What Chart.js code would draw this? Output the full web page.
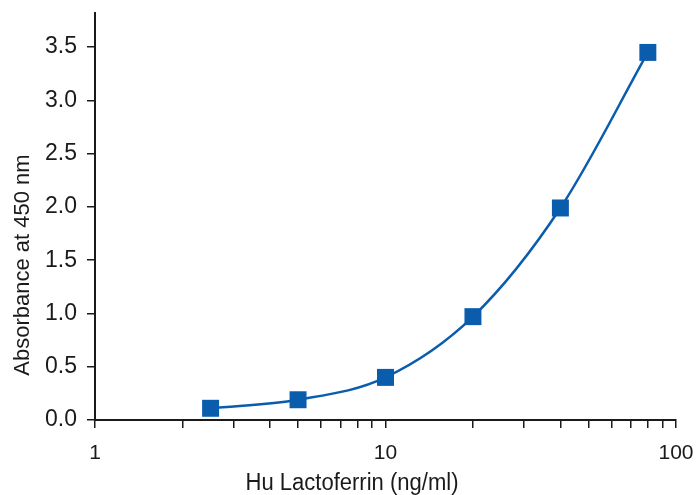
<!DOCTYPE html>
<html>
<head>
<meta charset="utf-8">
<script src="https://cdn.jsdelivr.net/npm/chart.js@4.4.0/dist/chart.umd.min.js"></script>
<style>
  html, body { margin: 0; padding: 0; background: #fff; }
  #wrap { width: 696px; height: 495px; }
</style>
</head>
<body>
<div id="wrap"><canvas id="curve"></canvas></div>
<script>
// standard curve data
const concentrations = [2.5, 5, 10, 20, 40, 80];
const absorbance = [0.11, 0.19, 0.40, 0.97, 1.99, 3.45];

const xTickValues = [1, 2, 3, 4, 5, 6, 7, 8, 9, 10, 20, 30, 40, 50, 60, 70, 80, 90, 100];
const xTickLabels = { 1: '1', 10: '10', 100: '100' };
const yTickValues = [0, 0.5, 1.0, 1.5, 2.0, 2.5, 3.0, 3.5];
const xTitle = 'Hu Lactoferrin (ng/ml)';
const yTitle = 'Absorbance at 450 nm';

const blue = '#0a5cad';
const ink = '#1a1a1a';

// both axis titles sit off-centre in the original, so they are drawn by hand
const titlesPlugin = {
    id: 'axisTitles',
    afterDraw(chart) {
        const c = chart.ctx;
        const area = chart.chartArea;
        c.save();
        c.fillStyle = ink;
        c.textAlign = 'center';
        c.textBaseline = 'alphabetic';

        // x title, condensed look
        c.font = "23px 'Liberation Sans'";
        const w = c.measureText(xTitle).width;
        c.save();
        c.translate(area.left + 257, area.bottom + 70);
        c.scale(213 / w, 1);
        c.fillText(xTitle, 0, 0);
        c.restore();

        // y title, rotated
        c.font = "22px 'Liberation Sans'";
        c.save();
        c.translate(29, area.top + 252);
        c.rotate(-Math.PI / 2);
        c.fillText(yTitle, 0, 0);
        c.restore();

        c.restore();
    }
};

const ctx = document.getElementById('curve').getContext('2d');
new Chart(ctx, {
    type: 'line',
    data: {
        datasets: [{
            data: concentrations.map((c, i) => ({ x: c, y: absorbance[i] })),
            borderColor: blue,
            backgroundColor: blue,
            borderWidth: 2.5,
            cubicInterpolationMode: 'monotone',
            pointStyle: 'rect',
            pointRadius: 12,
            pointBorderWidth: 0,
            fill: false
        }]
    },
    plugins: [titlesPlugin],
    options: {
        responsive: true,
        maintainAspectRatio: false,
        animation: false,
        layout: { padding: { top: 13, right: 20, left: 0, bottom: 0 } },
        plugins: { legend: { display: false }, tooltip: { enabled: false } },
        scales: {
            x: {
                type: 'logarithmic',
                min: 1,
                max: 100,
                afterBuildTicks: s => { s.ticks = xTickValues.map(v => ({ value: v })); },
                afterFit: s => { s.height = 75; s.paddingLeft = 0; s.paddingRight = 0; },
                grid: { drawOnChartArea: false, drawTicks: true, tickLength: 8, color: ink, lineWidth: 1.5 },
                border: { display: true, color: ink, width: 2 },
                ticks: {
                    autoSkip: false,
                    maxRotation: 0,
                    padding: 13,
                    color: ink,
                    font: { family: 'Liberation Sans', size: 21 },
                    callback: v => xTickLabels[v] || ''
                }
            },
            y: {
                min: 0,
                max: 3.82,
                afterBuildTicks: s => { s.ticks = yTickValues.map(v => ({ value: v })); },
                afterFit: s => { s.width = 95; s.paddingTop = 0; s.paddingBottom = 0; },
                grid: { drawOnChartArea: false, drawTicks: true, tickLength: 8, color: ink, lineWidth: 1.5 },
                border: { display: true, color: ink, width: 2 },
                ticks: {
                    padding: 10,
                    color: ink,
                    font: { family: 'Liberation Sans', size: 23 },
                    callback: v => v.toFixed(1)
                }
            }
        }
    }
});
</script>
</body>
</html>
